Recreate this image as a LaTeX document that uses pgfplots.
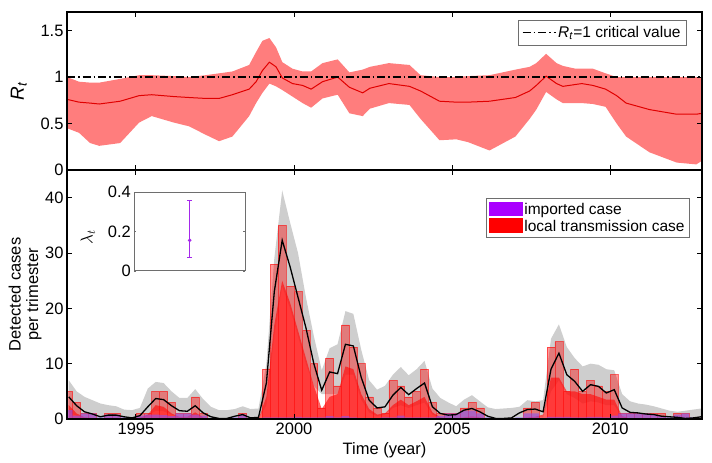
\documentclass[border=0pt]{standalone}
\usepackage{fontspec}
\setmainfont{Liberation Sans}
\usepackage{pgfplots}
\pgfplotsset{compat=1.18}
\usepackage{pgfplotstable}
\usepgfplotslibrary{fillbetween}
\definecolor{bandred}{RGB}{255,125,125}
\definecolor{medred}{RGB}{225,0,0}
\definecolor{greyband}{RGB}{206,206,206}
\definecolor{legpurple}{RGB}{170,0,255}
\definecolor{imppurple}{RGB}{130,80,255}
\definecolor{inpurple}{RGB}{165,40,235}
\definecolor{darkred}{RGB}{255,30,30}
\definecolor{frame}{RGB}{110,110,110}

\pgfplotstableread{
x total imp dark med lo up
1992.875 5 1.6 2.5 4.0 1.2 7.0
1993.125 3 0.6 1.0 2.4 0.6 5.0
1993.375 1 1.0 0.3 1.3 0.2 4.0
1993.625 1 1.0 0.2 0.9 0.1 3.4
1993.875 0 0.3 0.1 0.4 0.0 2.8
1994.125 1 0.8 0.2 0.7 0.1 2.5
1994.375 1 0.8 0.2 0.7 0.1 2.3
1994.625 0 0.3 0.1 0.4 0.0 1.7
1994.875 0 0.2 0.0 0.2 0.0 1.6
1995.125 1 0.6 0.2 0.6 0.0 2.0
1995.375 1 0.8 0.8 2.2 0.6 5.5
1995.625 5 0.8 2.5 3.7 1.5 6.7
1995.875 5 0.7 2.2 3.5 1.4 6.5
1996.125 3 0.5 1.0 2.4 0.8 5.0
1996.375 1 1.0 0.4 1.5 0.4 3.8
1996.625 1 1.0 0.4 1.4 0.4 3.8
1996.875 4 0.8 1.2 2.4 0.8 5.4
1997.125 1 0.6 0.3 1.1 0.3 3.6
1997.375 0 0.2 0.1 0.4 0.0 2.2
1997.625 0 0.1 0.0 0.1 0.0 1.6
1997.875 0 0.1 0.0 0.1 0.0 1.6
1998.125 0 0.3 0.0 0.5 0.0 1.8
1998.375 1 0.8 0.1 0.8 0.1 2.3
1998.625 0 0.2 0.0 0.2 0.0 1.8
1998.875 0 0.1 0.0 0.3 0.0 1.9
1999.125 9 0.3 4.0 6.5 2.5 10.0
1999.375 28 0.3 17 23.0 15 29.0
1999.625 35 0.3 25 32.3 24 41.3
1999.875 24 0.3 21 27.5 20 35.5
2000.125 23 0.4 16 22.0 15 30.0
2000.375 16 0.3 11 16.5 10 22.0
2000.625 10 0.3 6 10.0 6 15.0
2000.875 2 0.3 1.8 5.2 4.5 8.8
2001.125 11 0.5 4.0 8.5 4.5 12.8
2001.375 6 0.3 4.5 8.2 4.5 13.5
2001.625 17 0.5 9.5 13.5 8.0 19.5
2001.875 13 0.3 9.0 13.2 8.0 19.0
2002.125 10 0.2 4.5 7.5 3.5 12.5
2002.375 4 0.2 1.8 3.4 1.2 7.0
2002.625 2 0.2 0.8 2.0 0.5 5.3
2002.875 1 0.3 1.0 2.2 0.8 6.0
2003.125 7 0.3 2.5 4.3 2.0 8.0
2003.375 6 0.6 3.5 5.7 2.5 9.4
2003.625 4 0.3 2.5 4.4 2.0 7.9
2003.875 5 0.3 3.2 5.5 2.5 9.0
2004.125 9 0.3 4.0 6.5 3.0 10.5
2004.375 3 0.3 1.2 2.2 0.8 5.5
2004.625 1 0.5 0.3 1.0 0.2 3.8
2004.875 1 1.0 0.1 0.7 0.0 3.0
2005.125 1 1.0 0.1 0.8 0.0 2.3
2005.375 2 1.5 0.3 1.6 0.3 3.5
2005.625 3 1.5 0.5 1.9 0.5 4.3
2005.875 2 1.0 0.3 1.3 0.3 3.2
2006.125 0 0.3 0.1 0.5 0.0 2.1
2006.375 0 0.1 0.0 0.1 0.0 1.8
2006.625 0 0.1 0.0 0.1 0.0 1.9
2006.875 0 0.1 0.0 0.2 0.0 2.0
2007.125 0 0.3 0.1 1.1 0.0 2.2
2007.375 2 1.0 0.3 1.7 0.3 3.4
2007.625 3 1.0 0.4 1.8 0.4 3.2
2007.875 0 0.2 0.8 1.3 0.3 3.4
2008.125 13 0.4 7.5 9.0 5.0 14.5
2008.375 14 0.4 7.5 11.9 7.0 17.1
2008.625 5 0.4 5.0 8.0 4.5 13.0
2008.875 9 0.3 5.0 6.8 3.8 11.0
2009.125 5 0.3 4.5 5.0 2.8 9.5
2009.375 7 0.4 4.5 6.2 3.2 10.0
2009.625 6 0.4 4.0 5.9 3.0 9.8
2009.875 5 0.3 3.5 4.7 2.5 9.0
2010.125 8 0.6 3.5 5.3 2.5 8.8
2010.375 1 1.0 0.5 2.0 0.4 4.5
2010.625 1 1.0 0.1 1.2 0.2 3.2
2010.875 1 1.0 0.0 1.1 0.1 2.8
2011.125 1 1.0 0.0 0.9 0.1 2.6
2011.375 1 0.8 0.0 0.8 0.0 2.3
2011.625 1 0.5 0.0 0.5 0.0 1.9
2011.875 0 0.3 0.0 0.4 0.0 1.5
2012.125 1 0.8 0.0 0.3 0.0 1.3
2012.375 1 1.0 0.0 0.1 0.0 1.5
2012.625 0 0.3 0.0 0.2 0.0 1.7
2012.875 0 0.2 0.0 0.4 0.0 1.9
}\casedata

\pgfplotstableread{
x med lo up
1992.82 0.76 0.45 1.00
1993.20 0.73 0.40 0.95
1993.55 0.72 0.29 0.94
1993.84 0.71 0.26 0.94
1994.50 0.74 0.29 0.98
1995.10 0.80 0.51 1.02
1995.50 0.81 0.58 1.02
1996.20 0.79 0.51 1.01
1996.68 0.78 0.47 1.00
1997.20 0.77 0.38 1.02
1997.63 0.77 0.31 1.04
1998.05 0.81 0.36 1.06
1998.58 0.87 0.58 1.13
1998.80 0.95 0.72 1.27
1999.00 1.07 0.83 1.39
1999.22 1.16 0.93 1.42
1999.43 1.11 0.90 1.32
1999.63 0.99 0.86 1.16
1999.95 0.93 0.79 1.09
2000.27 0.91 0.72 1.06
2000.54 0.87 0.67 1.06
2000.90 0.95 0.77 1.15
2001.38 1.00 0.81 1.19
2001.75 0.89 0.61 1.05
2002.17 0.83 0.58 1.08
2002.40 0.88 0.66 1.11
2003.00 0.93 0.72 1.15
2003.65 0.90 0.70 1.13
2004.00 0.85 0.55 1.02
2004.60 0.74 0.32 1.00
2005.13 0.73 0.33 1.00
2005.50 0.73 0.30 1.01
2006.18 0.74 0.21 1.02
2007.00 0.78 0.36 1.08
2007.45 0.85 0.55 1.11
2007.66 0.91 0.65 1.15
2007.97 1.01 0.84 1.25
2008.30 0.93 0.76 1.15
2008.50 0.90 0.72 1.12
2008.90 0.92 0.72 1.09
2009.10 0.93 0.72 1.09
2009.45 0.91 0.71 1.09
2009.85 0.87 0.68 1.04
2010.20 0.80 0.50 1.00
2010.50 0.72 0.36 1.00
2011.24 0.65 0.19 1.00
2012.10 0.60 0.08 1.00
2012.72 0.60 0.06 1.00
2012.90 0.61 0.10 1.00
}\rtdata

\pgfplotsset{
  mystyle/.style={
    scale only axis, width=635pt,
    xmin=1992.82, xmax=2012.9,
    xtick={1995,2000,2005,2010},
    tick align=inside, major tick length=5pt,
    tick style={black, line width=0.9pt},
    axis line style={line width=1.2pt},
    axis on top,
    /pgf/number format/assume math mode=true,
    legend cell align=left,
  }
}

\begin{document}
\begin{tikzpicture}[font=\fontsize{16.5}{19}\selectfont]

% ---------- bottom axis ----------
\begin{axis}[mystyle, at={(0pt,0pt)}, anchor=south west, height=249pt,
  ymin=0, ymax=45,
  xticklabels={1995,2000,2005,2010},
  ytick={0,10,20,30,40}, yticklabels={0,10,20,30,40},
  xlabel={Time (year)},
  xlabel style={at={(axis description cs:0.5,-0.125)}, anchor=center},
  ylabel={Detected cases\\per trimester},
  ylabel style={at={(axis description cs:-0.066,0.5)}, anchor=center, align=center, font=\fontsize{16.5}{17.5}\selectfont},
  legend style={at={(axis description cs:0.98,0.886)}, anchor=north east, draw=frame, font=\fontsize{15.5}{18}\selectfont, inner sep=2.5pt},
]
\addplot[name path=lo, draw=none, forget plot] table[x=x, y=lo] {\casedata};
\addplot[name path=up, draw=none, forget plot] table[x=x, y=up] {\casedata};
\addplot[greyband, forget plot] fill between[of=up and lo];
\addplot[draw=none, fill=darkred, fill opacity=0.7, forget plot] table[x=x, y=dark] {\casedata} \closedcycle;
\addplot[ybar, bar width=0.25, bar shift=0pt, fill=red, fill opacity=0.4, draw=red, draw opacity=0.55, line width=0.6pt, forget plot] table[x=x, y=total] {\casedata};
\addplot[ybar, bar width=0.25, bar shift=0pt, fill=imppurple, fill opacity=0.55, draw=none, forget plot] table[x=x, y=imp] {\casedata};
\addplot[black, line width=1.3pt, forget plot] table[x=x, y=med] {\casedata};
\addlegendimage{legend image code/.code={\fill[legpurple] (0pt,-6pt) rectangle (33pt,7.5pt);}}
\addlegendentry{imported case}
\addlegendimage{legend image code/.code={\fill[red] (0pt,-6pt) rectangle (33pt,7.5pt);}}
\addlegendentry{local transmission case}
\end{axis}

% ---------- top axis ----------
\begin{axis}[mystyle, at={(0pt,249pt)}, anchor=south west, height=158pt,
  ymin=0, ymax=1.7,
  xticklabels={},
  ytick={0,0.5,1,1.5}, yticklabels={0,0.5,1,1.5},
  ylabel={\textit{R}\textsubscript{\textit{t}}},
  ylabel style={at={(axis description cs:-0.076,0.5)}, anchor=center, font=\fontsize{19}{21}\selectfont},
  legend style={at={(axis description cs:0.976,0.95)}, anchor=north east, draw=frame, font=\fontsize{15.5}{18}\selectfont, inner sep=4pt},
]
\addplot[name path=rlo, draw=none, forget plot] table[x=x, y=lo] {\rtdata};
\addplot[name path=rup, draw=none, forget plot] table[x=x, y=up] {\rtdata};
\addplot[bandred, forget plot] fill between[of=rup and rlo];
\addplot[medred, line width=1pt, forget plot] table[x=x, y=med] {\rtdata};
\addplot[black, line width=1.3pt, dash pattern=on 8pt off 3pt on 1.5pt off 3pt, forget plot]
  coordinates {(1992.82,1) (2012.9,1)};
\addlegendimage{legend image code/.code={\draw[black, line width=1.3pt, dash pattern=on 8pt off 3pt on 1.5pt off 3pt] (0pt,0pt) -- (33pt,0pt);}}
\addlegendentry{\textit{R}\textsubscript{\textit{t}}=1 critical value}
\end{axis}

% ---------- inset ----------
\begin{axis}[at={(67.3pt,148.3pt)}, anchor=south west, scale only axis,
  width=110.7pt, height=78.4pt,
  xmin=0, xmax=2, ymin=0, ymax=0.4,
  xtick=\empty, ytick={0,0.2,0.4}, yticklabels={0,0.2,0.4},
  tick align=inside, major tick length=2pt, tick style={frame},
  axis line style={frame, line width=0.8pt},
  ylabel={$\lambda_t$},
  ylabel style={at={(axis description cs:-0.42,0.43)}, anchor=center},
]
\addplot[inpurple, line width=0.9pt, mark=*, mark size=1.3pt,
  error bars/.cd, y dir=both, y explicit, error bar style={inpurple, line width=0.9pt},
  error mark options={inpurple, mark size=2.5pt, rotate=90}]
  coordinates {(1,0.155) += (0,0.207) -= (0,0.088)};
\end{axis}

\pgfresetboundingbox
\useasboundingbox (-67pt,-44pt) rectangle (645pt,419pt);
\end{tikzpicture}
\end{document}
